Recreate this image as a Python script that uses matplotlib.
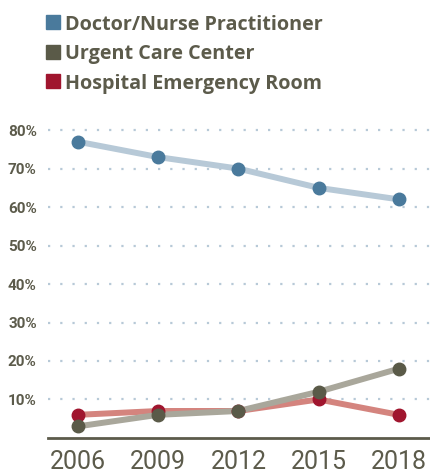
import matplotlib
matplotlib.use("Agg")
import matplotlib.pyplot as plt
from matplotlib.patches import Rectangle

years = ["2006", "2009", "2012", "2015", "2018"]
doctor = [77, 73, 70, 65, 62]
urgent = [3, 6, 7, 12, 18]
hospital = [6, 7, 7, 10, 6]
yticks = [10, 20, 30, 40, 50, 60, 70, 80]
series_names = ["Doctor/Nurse Practitioner", "Urgent Care Center", "Hospital Emergency Room"]

text_color = "#5c5b4b"
marker_colors = ["#4a7a9c", "#5a5a48", "#a0152e"]
line_colors = ["#b7c9d7", "#a9a79b", "#d4847e"]

fig = plt.figure(figsize=(4.31, 4.76), dpi=100)
ax = fig.add_axes([0.111, 0.080, 0.889, 0.687])

x = list(range(len(years)))
series = [(doctor, 0, 2), (hospital, 2, 3), (urgent, 1, 4)]
for vals, k, z in series:
    ax.plot(x, vals, color=line_colors[k], lw=4.3, zorder=z,
            solid_capstyle="round")
    ax.plot(x, vals, ls="none", marker="o", ms=9, color=marker_colors[k],
            zorder=z + 5)

ax.set_xlim(-0.374, 4.40)
ax.set_ylim(0, 85)
ax.set_yticks(yticks)
ax.set_yticklabels([f"{v}%" for v in yticks], fontfamily="Roboto",
                   fontweight="bold", fontsize=11, color=text_color)
ax.set_xticks(x)
ax.set_xticklabels(years, fontfamily="Roboto", fontweight="normal",
                   fontsize=18, color=text_color)
ax.tick_params(axis="y", length=0, pad=8)
ax.tick_params(axis="x", length=0, pad=9)
for v in yticks:
    ax.axhline(v, color="#b7c9d7", lw=1.6, ls=(0, (1, 4.5)), zorder=1)
for s in ["top", "right", "left"]:
    ax.spines[s].set_visible(False)
ax.spines["bottom"].set_color("#5c5b4b")
ax.spines["bottom"].set_linewidth(2)

# legend
leg_y = [22, 52, 81]
for name, c, yy in zip(series_names, marker_colors, leg_y):
    fy = 1 - yy / 476
    fig.patches.append(Rectangle((46 / 431, fy - 7 / 476), 14 / 431, 14 / 476,
                                 transform=fig.transFigure, color=c))
    fig.text(65 / 431, fy, name, fontfamily="Open Sans", fontweight="bold",
             fontsize=14.2, color=text_color, va="center_baseline", ha="left")

fig.savefig("out.png", dpi=100)
